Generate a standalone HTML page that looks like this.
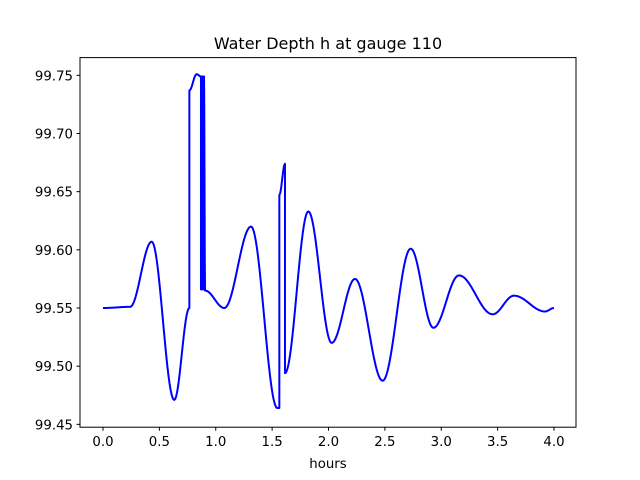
<!DOCTYPE html>
<html><head><meta charset="utf-8"><style>
body{margin:0;background:#fff}
svg{display:block;font-family:"DejaVu Sans","Liberation Sans",sans-serif}
</style></head><body>
<svg id="chart" width="640" height="480" viewBox="0 0 640 480">
<rect x="0" y="0" width="640" height="480" fill="#fff"/>
<text x="328" y="49" text-anchor="middle" font-size="16">Water Depth h at gauge 110</text>
<text x="328" y="468" text-anchor="middle" font-size="13.3">hours</text>
<g id="ticks"></g>
<path id="line" fill="none" stroke="#0000ff" stroke-width="2" stroke-linejoin="round"/>
<rect x="80" y="57.6" width="496" height="369.6" fill="none" stroke="#000" stroke-width="1"/>
</svg>
<script>
const times = [0,0.24,0.432,0.632,0.766,0.766,0.83,0.869,0.869,0.878,0.878,0.887,0.887,0.896,0.896,0.905,1.076,1.313,1.546,1.564,1.564,1.614,1.614,1.821,2.028,2.235,2.48,2.729,2.93,3.157,3.456,3.645,3.92,4.0];
const depths = [99.55,99.551,99.607,99.471,99.55,99.737,99.751,99.749,99.566,99.566,99.749,99.749,99.566,99.566,99.749,99.565,99.55,99.620,99.464,99.464,99.647,99.674,99.494,99.633,99.520,99.575,99.4875,99.601,99.533,99.578,99.5446,99.5606,99.547,99.55];
const xTicks = [0,0.5,1,1.5,2,2.5,3,3.5,4];
const xTickLabels = ["0.0","0.5","1.0","1.5","2.0","2.5","3.0","3.5","4.0"];
const yTicks = [99.45,99.5,99.55,99.6,99.65,99.7,99.75];
const yTickLabels = ["99.45","99.50","99.55","99.60","99.65","99.70","99.75"];

const X0=103, XS=112.75, Y0=308, YS=1163.4;
function xs(t){return X0+t*XS;}
function ys(h){return Y0-(h-99.55)*YS;}

const NS="http://www.w3.org/2000/svg";
const g=document.getElementById('ticks');
xTicks.forEach((t,i)=>{
  const l=document.createElementNS(NS,'line');
  
  
  l.setAttribute('x1',xs(t));l.setAttribute('x2',xs(t));
  l.setAttribute('y1',427.2);l.setAttribute('y2',430.7);
  l.setAttribute('stroke','#000');
  g.appendChild(l);
  const tx=document.createElementNS(NS,'text');
  
  
  tx.setAttribute('x',xs(t));tx.setAttribute('y',446);
  tx.setAttribute('text-anchor','middle');tx.setAttribute('font-size','13.3');
  tx.textContent=xTickLabels[i];
  g.appendChild(tx);
});
yTicks.forEach((v,i)=>{
  const l=document.createElementNS(NS,'line');
  
  
  l.setAttribute('x1',76.5);l.setAttribute('x2',80);
  l.setAttribute('y1',ys(v));l.setAttribute('y2',ys(v));
  l.setAttribute('stroke','#000');
  g.appendChild(l);
  const tx=document.createElementNS(NS,'text');
  
  
  tx.setAttribute('x',73);tx.setAttribute('y',ys(v)+5);
  tx.setAttribute('text-anchor','end');tx.setAttribute('font-size','13.3');
  tx.textContent=yTickLabels[i];
  g.appendChild(tx);
});

let d='M'+xs(times[0]).toFixed(2)+' '+ys(depths[0]).toFixed(2);
for(let i=1;i<times.length;i++){
  const t0=times[i-1],t1=times[i],h0=depths[i-1],h1=depths[i];
  if(t1===t0){d+=' L'+xs(t1).toFixed(2)+' '+ys(h1).toFixed(2);continue;}
  const n=Math.max(4,Math.round((t1-t0)*120));
  for(let k=1;k<=n;k++){
    const f=k/n, s=(1-Math.cos(Math.PI*f))/2;
    d+=' L'+xs(t0+(t1-t0)*f).toFixed(2)+' '+ys(h0+(h1-h0)*s).toFixed(2);
  }
}
document.getElementById('line').setAttribute('d',d);
</script>
</body></html>
